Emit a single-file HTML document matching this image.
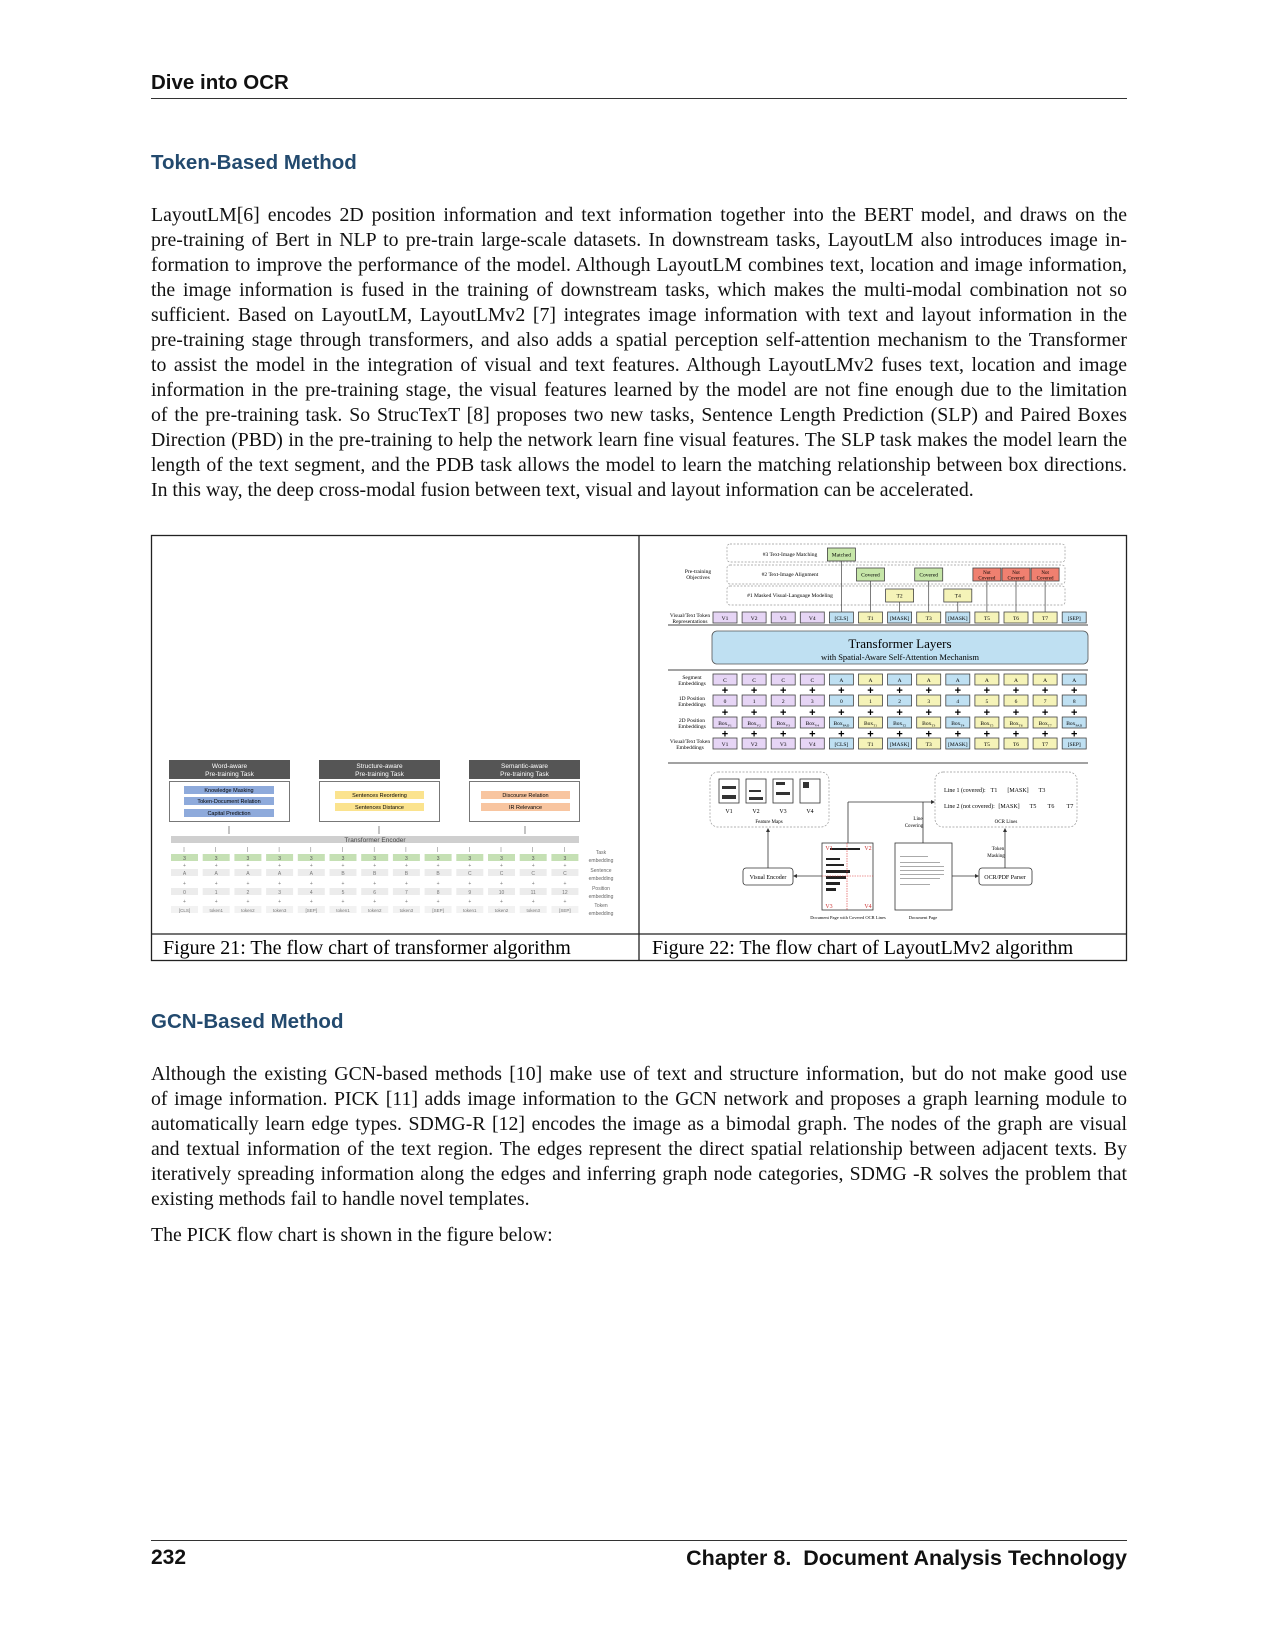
<!DOCTYPE html>
<html><head><meta charset="utf-8"><style>
body{margin:0;background:#fff;}
#pg{position:relative;width:1275px;height:1650px;overflow:hidden;font-family:"Liberation Serif",serif;color:#111;}
.h{position:absolute;font-family:"Liberation Sans",sans-serif;font-weight:bold;}
.ln{position:absolute;left:151px;width:976px;font-size:19.8px;text-align:justify;text-align-last:justify;white-space:nowrap;line-height:25px;}
.ll{text-align-last:left;}
svg{position:absolute;left:0;top:0;}
</style></head><body><div id="pg">
<div class="h" style="left:151px;top:71px;font-size:20.5px;">Dive into OCR</div>
<div style="position:absolute;left:151px;top:98px;width:976px;height:1px;background:#333"></div>
<div class="h" style="left:151px;top:151px;font-size:20.5px;color:#234a6e;">Token-Based Method</div>
<div class="ln" style="top:203px">LayoutLM[6] encodes 2D position information and text information together into the BERT model, and draws on the</div>
<div class="ln" style="top:228px">pre-training of Bert in NLP to pre-train large-scale datasets. In downstream tasks, LayoutLM also introduces image in-</div>
<div class="ln" style="top:253px">formation to improve the performance of the model. Although LayoutLM combines text, location and image information,</div>
<div class="ln" style="top:278px">the image information is fused in the training of downstream tasks, which makes the multi-modal combination not so</div>
<div class="ln" style="top:303px">sufficient. Based on LayoutLM, LayoutLMv2 [7] integrates image information with text and layout information in the</div>
<div class="ln" style="top:328px">pre-training stage through transformers, and also adds a spatial perception self-attention mechanism to the Transformer</div>
<div class="ln" style="top:353px">to assist the model in the integration of visual and text features. Although LayoutLMv2 fuses text, location and image</div>
<div class="ln" style="top:378px">information in the pre-training stage, the visual features learned by the model are not fine enough due to the limitation</div>
<div class="ln" style="top:403px">of the pre-training task. So StrucTexT [8] proposes two new tasks, Sentence Length Prediction (SLP) and Paired Boxes</div>
<div class="ln" style="top:428px">Direction (PBD) in the pre-training to help the network learn fine visual features. The SLP task makes the model learn the</div>
<div class="ln" style="top:453px">length of the text segment, and the PDB task allows the model to learn the matching relationship between box directions.</div>
<div class="ln ll" style="top:478px">In this way, the deep cross-modal fusion between text, visual and layout information can be accelerated.</div>

<div class="h" style="left:151px;top:1010px;font-size:20.5px;color:#234a6e;">GCN-Based Method</div>
<div class="ln" style="top:1062px">Although the existing GCN-based methods [10] make use of text and structure information, but do not make good use</div>
<div class="ln" style="top:1087px">of image information. PICK [11] adds image information to the GCN network and proposes a graph learning module to</div>
<div class="ln" style="top:1112px">automatically learn edge types. SDMG-R [12] encodes the image as a bimodal graph. The nodes of the graph are visual</div>
<div class="ln" style="top:1137px">and textual information of the text region. The edges represent the direct spatial relationship between adjacent texts. By</div>
<div class="ln" style="top:1162px">iteratively spreading information along the edges and inferring graph node categories, SDMG -R solves the problem that</div>
<div class="ln ll" style="top:1187px">existing methods fail to handle novel templates.</div>
<div class="ln ll" style="top:1223px">The PICK flow chart is shown in the figure below:</div>

<div style="position:absolute;left:151px;top:1540px;width:976px;height:1px;background:#333"></div>
<div class="h" style="left:151px;top:1546px;font-size:21px;">232</div>
<div class="h" style="right:148px;top:1546px;font-size:21.5px;">Chapter 8.&nbsp; Document Analysis Technology</div>

<svg width="1275" height="1650" viewBox="0 0 1275 1650" font-family="Liberation Serif, serif">
<rect x="151.5" y="535.5" width="975" height="425" fill="none" stroke="#222" stroke-width="1.3"/>
<line x1="639" y1="535" x2="639" y2="961" stroke="#222" stroke-width="1.3"/>
<line x1="151" y1="934" x2="1127" y2="934" stroke="#222" stroke-width="1.3"/>
<text x="163" y="954" font-size="20">Figure 21: The flow chart of transformer algorithm</text>
<text x="652" y="954" font-size="20">Figure 22: The flow chart of LayoutLMv2 algorithm</text>

<g font-family="Liberation Sans, sans-serif" text-anchor="middle">
<rect x="169" y="760" width="121" height="19" fill="#555"/>
<text x="229.5" y="768" font-size="6.5" fill="#fff">Word-aware</text><text x="229.5" y="776" font-size="6.5" fill="#fff">Pre-training Task</text>
<rect x="169.5" y="781.5" width="120" height="40" fill="#fff" stroke="#777"/>
<rect x="184" y="786" width="90" height="8" fill="#8eaadb"/><text x="229" y="792" font-size="5.5">Knowledge Masking</text>
<rect x="184" y="797" width="90" height="8" fill="#8eaadb"/><text x="229" y="803" font-size="5.5">Token-Document Relation</text>
<rect x="184" y="809" width="90" height="8" fill="#8eaadb"/><text x="229" y="815" font-size="5.5">Capital Prediction</text>

<rect x="319" y="760" width="121" height="19" fill="#555"/>
<text x="379.5" y="768" font-size="6.5" fill="#fff">Structure-aware</text><text x="379.5" y="776" font-size="6.5" fill="#fff">Pre-training Task</text>
<rect x="319.5" y="781.5" width="120" height="40" fill="#fff" stroke="#777"/>
<rect x="335" y="791" width="89" height="8" fill="#fbe38e"/><text x="379.5" y="797" font-size="5.5">Sentences Reordering</text>
<rect x="335" y="803" width="89" height="8" fill="#fbe38e"/><text x="379.5" y="809" font-size="5.5">Sentences Distance</text>

<rect x="469" y="760" width="111" height="19" fill="#555"/>
<text x="524.5" y="768" font-size="6.5" fill="#fff">Semantic-aware</text><text x="524.5" y="776" font-size="6.5" fill="#fff">Pre-training Task</text>
<rect x="469.5" y="781.5" width="110" height="40" fill="#fff" stroke="#777"/>
<rect x="481" y="791" width="89" height="8" fill="#f8c5a0"/><text x="525.5" y="797" font-size="5.5">Discourse Relation</text>
<rect x="481" y="803" width="89" height="8" fill="#f8c5a0"/><text x="525.5" y="809" font-size="5.5">IR Relevance</text>

<g stroke="#555" stroke-width="0.7"><line x1="229" y1="834" x2="229" y2="826"/><line x1="379" y1="834" x2="379" y2="826"/><line x1="525" y1="834" x2="525" y2="826"/></g>
<rect x="171" y="836" width="408" height="7" fill="#cfcfcf"/>
<text x="375" y="842" font-size="6.5" fill="#444">Transformer Encoder</text>
<g font-size="5" fill="#666">
<text x="601" y="854">Task</text><text x="601" y="862">embedding</text>
<text x="601" y="872">Sentence</text><text x="601" y="880">embedding</text>
<text x="601" y="890">Position</text><text x="601" y="898">embedding</text>
<text x="601" y="907">Token</text><text x="601" y="915">embedding</text>
</g>
<g id="c21"></g>
</g>

<g font-size="5.5" text-anchor="middle">
<rect x="727" y="544" width="338" height="18" rx="3" fill="none" stroke="#999" stroke-dasharray="2,1.5" stroke-width="0.7"/>
<rect x="727" y="565" width="338" height="19" rx="3" fill="none" stroke="#999" stroke-dasharray="2,1.5" stroke-width="0.7"/>
<rect x="727" y="586" width="338" height="19" rx="3" fill="none" stroke="#999" stroke-dasharray="2,1.5" stroke-width="0.7"/>
<text x="790" y="556">#3 Text-Image Matching</text>
<text x="790" y="576">#2 Text-Image Alignment</text>
<text x="790" y="597">#1 Masked Visual-Language Modeling</text>
<text x="698" y="573">Pre-training</text><text x="698" y="579">Objectives</text>
<text x="690" y="617">Visual/Text Token</text><text x="690" y="623">Representations</text>
<line x1="668" y1="625" x2="1088" y2="625" stroke="#444" stroke-width="1"/>
<rect x="712" y="631" width="376" height="33" rx="5" fill="#bfe0f2" stroke="#555" stroke-width="0.8"/>
<text x="900" y="648" font-size="13">Transformer Layers</text>
<text x="900" y="660" font-size="8.5">with Spatial-Aware Self-Attention Mechanism</text>
<line x1="668" y1="670" x2="1088" y2="670" stroke="#444" stroke-width="1"/>
<text x="692" y="679">Segment</text><text x="692" y="685">Embeddings</text>
<text x="692" y="700">1D Position</text><text x="692" y="706">Embeddings</text>
<text x="692" y="722">2D Position</text><text x="692" y="728">Embeddings</text>
<text x="690" y="743">Visual/Text Token</text><text x="690" y="749">Embeddings</text>
<line x1="668" y1="763" x2="1088" y2="763" stroke="#444" stroke-width="1"/>
<g id="c22"></g>

<rect x="710" y="772" width="119" height="55" rx="8" fill="none" stroke="#999" stroke-dasharray="2,1.5" stroke-width="0.7"/>
<rect x="935" y="772" width="142" height="55" rx="8" fill="none" stroke="#999" stroke-dasharray="2,1.5" stroke-width="0.7"/>
<g fill="#fff" stroke="#333" stroke-width="0.8">
<rect x="719" y="779" width="20" height="24"/><rect x="746" y="779" width="20" height="24"/><rect x="773" y="779" width="20" height="24"/><rect x="800" y="779" width="20" height="24"/>
</g>
<g fill="#333"><rect x="722" y="786" width="14" height="3"/><rect x="722" y="795" width="14" height="4"/><rect x="749" y="790" width="12" height="2"/><rect x="749" y="797" width="14" height="3"/><rect x="776" y="782" width="9" height="3"/><rect x="776" y="792" width="14" height="3"/><rect x="803" y="782" width="6" height="6"/></g>
<text x="729" y="813" font-size="6">V1</text><text x="756" y="813" font-size="6">V2</text><text x="783" y="813" font-size="6">V3</text><text x="810" y="813" font-size="6">V4</text>
<text x="769" y="823" font-size="5">Feature Maps</text>
<text x="944" y="792" font-size="6" text-anchor="start">Line 1 (covered):</text>
<text x="994" y="792" font-size="6">T1</text><text x="1018" y="792" font-size="6">[MASK]</text><text x="1042" y="792" font-size="6">T3</text>
<text x="944" y="808" font-size="6" text-anchor="start">Line 2 (not covered):</text>
<text x="1009" y="808" font-size="6">[MASK]</text><text x="1033" y="808" font-size="6">T5</text><text x="1051" y="808" font-size="6">T6</text><text x="1070" y="808" font-size="6">T7</text>
<text x="1006" y="823" font-size="5">OCR Lines</text>

<rect x="743" y="868" width="50" height="17" rx="3" fill="#fff" stroke="#333" stroke-width="0.8"/>
<text x="768" y="879" font-size="6">Visual Encoder</text>
<rect x="979" y="868" width="53" height="17" rx="3" fill="#fff" stroke="#333" stroke-width="0.8"/>
<text x="1005" y="879" font-size="6">OCR/PDF Parser</text>

<rect x="822" y="843" width="51" height="67" fill="#fff" stroke="#333" stroke-width="0.8"/>
<g fill="#222"><rect x="830" y="848" width="30" height="2"/><rect x="826" y="858" width="14" height="2"/><rect x="826" y="864" width="18" height="2"/><rect x="826" y="870" width="24" height="3"/><rect x="826" y="876" width="20" height="3"/><rect x="826" y="882" width="14" height="3"/><rect x="826" y="888" width="10" height="3"/></g>
<line x1="847" y1="843" x2="847" y2="910" stroke="#d33" stroke-dasharray="1.5,1" stroke-width="0.6"/>
<line x1="822" y1="876" x2="873" y2="876" stroke="#d33" stroke-dasharray="1.5,1" stroke-width="0.6"/>
<text x="829" y="850" font-size="6" fill="#c33">V1</text><text x="868" y="850" font-size="6" fill="#c33">V2</text>
<text x="829" y="908" font-size="6" fill="#c33">V3</text><text x="868" y="908" font-size="6" fill="#c33">V4</text>
<rect x="895" y="843" width="57" height="67" fill="#fff" stroke="#333" stroke-width="0.8"/>
<g fill="#aaa"><rect x="900" y="856" width="28" height="1"/><rect x="900" y="862" width="40" height="1"/><rect x="900" y="866" width="44" height="1"/><rect x="900" y="870" width="44" height="1"/><rect x="900" y="874" width="44" height="1"/><rect x="900" y="878" width="40" height="1"/><rect x="900" y="884" width="30" height="1"/></g>
<text x="848" y="919" font-size="4.5">Document Page with Covered OCR Lines</text>
<text x="923" y="919" font-size="4.5">Document Page</text>
<g stroke="#333" stroke-width="0.8" fill="none">
<line x1="822" y1="876" x2="796" y2="876"/><line x1="768" y1="868" x2="768" y2="830"/>
<line x1="848" y1="843" x2="848" y2="802"/><line x1="848" y1="802" x2="932" y2="802"/>
<line x1="923" y1="843" x2="923" y2="802"/>
<line x1="952" y1="876" x2="976" y2="876"/><line x1="1005" y1="868" x2="1005" y2="830"/>
</g>
<g fill="#333"><path d="M793 876l4-2v4z"/><path d="M768 828l-2 4h4z"/><path d="M935 802l-4-2v4z"/><path d="M979 876l-4-2v4z"/><path d="M1005 828l-2 4h4z"/></g>
<text x="918" y="820" font-size="5">Line</text><text x="914" y="827" font-size="5">Covering</text>
<text x="998" y="850" font-size="5">Token</text><text x="996" y="857" font-size="5">Masking</text>
</g>
</svg>
<script>
(function(){
var NS="http://www.w3.org/2000/svg";
function el(p,t,a,tx){var e=document.createElementNS(NS,t);for(var k in a)e.setAttribute(k,a[k]);if(tx!=null)e.textContent=tx;p.appendChild(e);return e;}
var g=document.getElementById("c21");
var sent="AAAAABBBBCCCC",tok=["[CLS]","token1","token2","token3","[SEP]","token1","token2","token3","[SEP]","token1","token2","token3","[SEP]"];
for(var i=0;i<13;i++){var x=171+i*31.7;
el(g,"line",{x1:x+13,y1:852,x2:x+13,y2:847,stroke:"#777","stroke-width":0.5});
el(g,"rect",{x:x,y:854,width:27,height:7,fill:"#c5e0b4"});el(g,"text",{x:x+13.5,y:860,"font-size":5,fill:"#555"},"3");
el(g,"text",{x:x+13.5,y:867,"font-size":5,fill:"#777"},"+");
el(g,"rect",{x:x,y:869,width:27,height:7,fill:"#ececec"});el(g,"text",{x:x+13.5,y:875,"font-size":5,fill:"#777"},sent[i]);
el(g,"text",{x:x+13.5,y:885,"font-size":5,fill:"#777"},"+");
el(g,"rect",{x:x,y:888,width:27,height:7,fill:"#ececec"});el(g,"text",{x:x+13.5,y:894,"font-size":5,fill:"#777"},String(i));
el(g,"text",{x:x+13.5,y:903,"font-size":5,fill:"#777"},"+");
el(g,"rect",{x:x,y:906,width:27,height:7,fill:"#f2f2f2"});el(g,"text",{x:x+13.5,y:912,"font-size":4.5,fill:"#777"},tok[i]);}
var h=document.getElementById("c22");
var P="#e6d5f5",B="#bfe0f2",Y="#f5f3b8";
var col=[P,P,P,P,B,Y,B,Y,B,Y,Y,Y,B];
var rep=["V1","V2","V3","V4","[CLS]","T1","[MASK]","T3","[MASK]","T5","T6","T7","[SEP]"];
var seg=["C","C","C","C","A","A","A","A","A","A","A","A","A"];
var box=["V1","V2","V3","V4","PAD","T1","T2","T3","T4","T5","T6","T7","PAD"];
function cell(x,y,c,t,sub){el(h,"rect",{x:x,y:y,width:24,height:11,fill:c,stroke:"#444","stroke-width":0.8});
var e=el(h,"text",{x:x+12,y:y+8,"font-size":5.5},t);if(sub){el(e,"tspan",{"font-size":3.5,dy:1.5},sub);}}
for(var i=0;i<13;i++){var x=713+i*29.1;
cell(x,612,col[i],rep[i]);cell(x,674,col[i],seg[i]);cell(x,695,col[i],String(i<4?i:i-4));cell(x,717,col[i],"Box",box[i]);cell(x,738,col[i],rep[i]);
[694.5,716.5,738].forEach(function(yy){el(h,"text",{x:x+12,y:yy-0.5,"font-size":11,"font-weight":"bold","font-family":"Liberation Sans, sans-serif"},"+");});}
function ob(i,y,c,t,t2){var x=713+i*29.1-2;el(h,"rect",{x:x,y:y,width:28,height:13,fill:c,stroke:"#444","stroke-width":0.8});
if(t2){el(h,"text",{x:x+14,y:y+6,"font-size":5},t);el(h,"text",{x:x+14,y:y+11.5,"font-size":5},t2);}else el(h,"text",{x:x+14,y:y+8.5,"font-size":5.5},t);
var cx=713+i*29.1+12;el(h,"line",{x1:cx,y1:y+13,x2:cx,y2:612,stroke:"#444","stroke-width":0.7});}
ob(4,548,"#c6e6a8","Matched");ob(5,568,"#c6e6a8","Covered");ob(7,568,"#c6e6a8","Covered");
ob(9,568,"#f08070","Not","Covered");ob(10,568,"#f08070","Not","Covered");ob(11,568,"#f08070","Not","Covered");
ob(6,589,Y,"T2");ob(8,589,Y,"T4");
})();
</script>
</div></body></html>
